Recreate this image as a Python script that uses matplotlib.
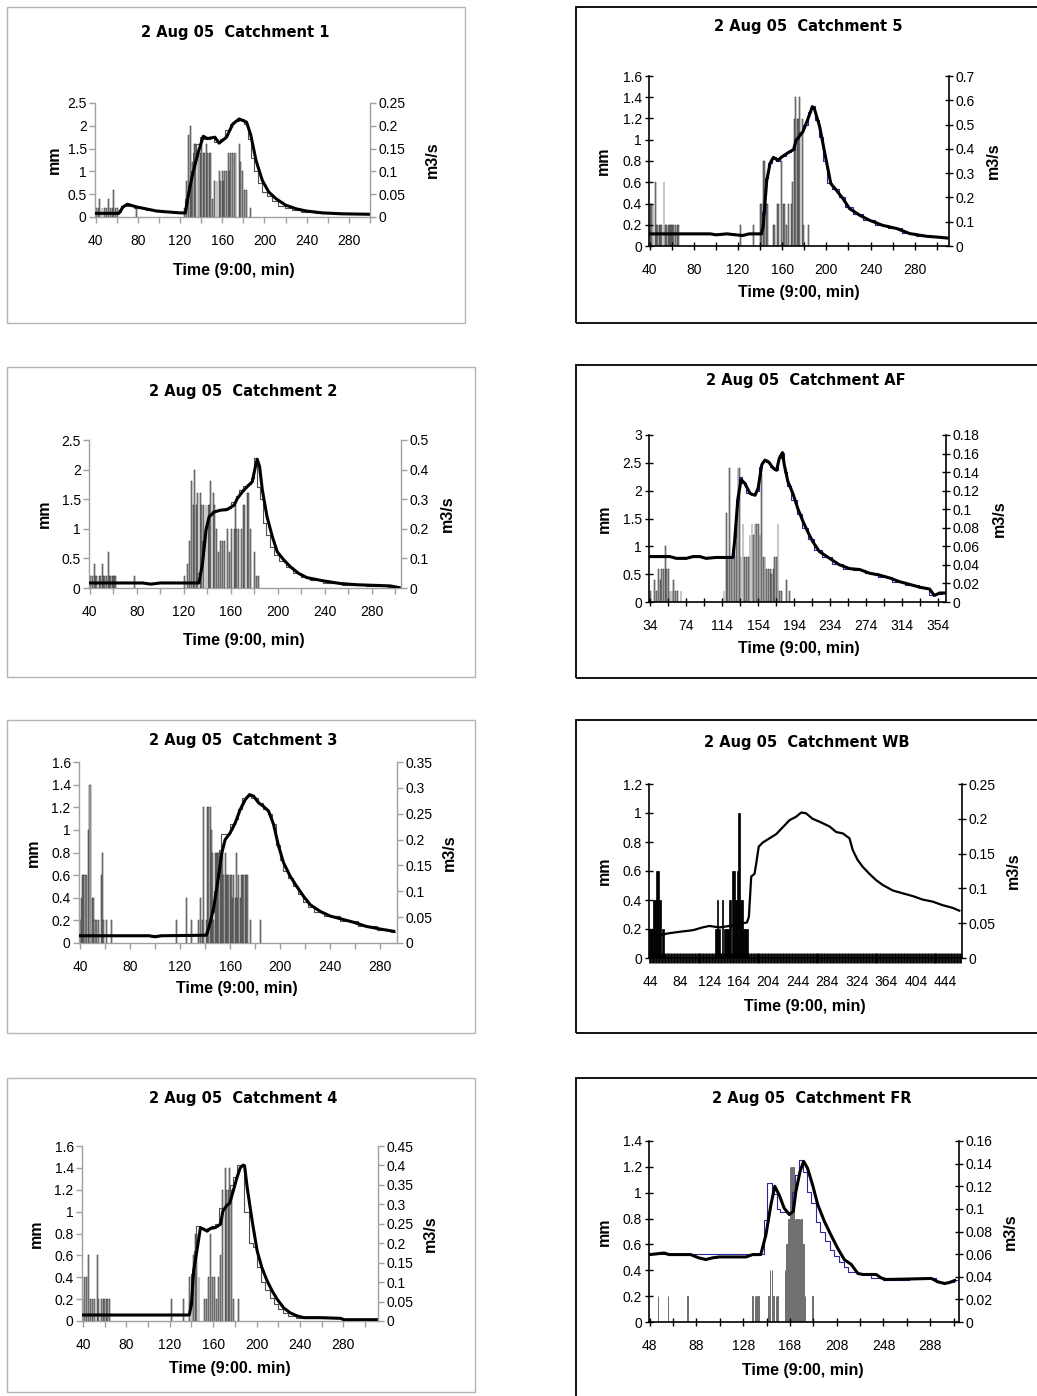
import matplotlib
matplotlib.use('Agg')
import matplotlib.pyplot as plt
from matplotlib.patches import Rectangle
import numpy as np

W, H = 1037, 1396

#####################
# Data: rainfall (t min, mm), simulated and observed flow (t min, m3/s)
#####################

rain_c1 = [(40, 0.2), (41, 0.2), (43, 0.2), (44, 0.4), (46, 0.2), (48, 0.2), (50, 0.2), (52, 0.4), (54, 0.2),
           (56, 0.2), (57, 0.6), (59, 0.2), (61, 0.2), (79, 0.2),
           (124, 0.2), (126, 0.8), (128, 1.8), (130, 2.0), (131, 0.8), (132, 1.2), (134, 1.6), (135, 1.6),
           (137, 1.4), (138, 1.4), (139, 1.4), (140, 1.6), (142, 1.4), (143, 1.4), (145, 1.6), (146, 1.4),
           (148, 1.4), (149, 1.4), (151, 0.4), (153, 0.8), (155, 0.8), (157, 1.0), (158, 0.8), (160, 1.0),
           (161, 0.8), (162, 1.0), (164, 1.0), (166, 1.4), (167, 1.0), (168, 1.4), (170, 1.4), (172, 1.4),
           (173, 1.4), (176, 1.6), (177, 1.2), (179, 1.0), (181, 0.6), (183, 0.6), (187, 0.2)]
sim_c1 = [(40, 0.008), (62, 0.008), (66, 0.022), (70, 0.028), (79, 0.022), (98, 0.013), (120, 0.009),
          (125, 0.009), (128, 0.05), (132, 0.095), (137, 0.14), (142, 0.177), (146, 0.172), (153, 0.175),
          (157, 0.162), (164, 0.175), (170, 0.204), (176, 0.215), (183, 0.208), (187, 0.18), (192, 0.124),
          (198, 0.08), (204, 0.055), (211, 0.04), (220, 0.026), (230, 0.018), (240, 0.013), (255, 0.009),
          (274, 0.007), (299, 0.006)]
obs_c1 = [(40, 0.01), (62, 0.01), (66, 0.025), (72, 0.025), (80, 0.02), (95, 0.015), (110, 0.01),
          (124, 0.01), (126, 0.04), (129, 0.07), (131, 0.1), (134, 0.14), (137, 0.16), (140, 0.175),
          (146, 0.17), (150, 0.175), (155, 0.165), (160, 0.17), (165, 0.19), (169, 0.205), (173, 0.21),
          (178, 0.215), (183, 0.205), (186, 0.17), (189, 0.13), (192, 0.1), (196, 0.075), (200, 0.055),
          (205, 0.045), (210, 0.035), (216, 0.025), (222, 0.02), (230, 0.015), (240, 0.012), (255, 0.009),
          (275, 0.007), (299, 0.006)]

rain_c2 = [(40, 0.2), (41, 0.2), (42, 0.2), (44, 0.4), (45, 0.2), (46, 0.2), (48, 0.2), (49, 0.2), (51, 0.4),
           (52, 0.2), (53, 0.2), (54, 0.2), (56, 0.6), (57, 0.2), (58, 0.2), (59, 0.2), (60, 0.2), (61, 0.2),
           (62, 0.2), (78, 0.2),
           (121, 0.2), (123, 0.4), (125, 0.8), (127, 1.8), (128, 1.4), (129, 2.0), (131, 1.4), (132, 1.6),
           (134, 1.6), (135, 1.4), (137, 1.4), (139, 1.4), (141, 1.4), (142, 1.4), (143, 1.8), (145, 1.6),
           (146, 1.4), (148, 1.0), (150, 0.6), (151, 0.8), (153, 0.8), (155, 0.8), (157, 1.0), (159, 0.6),
           (161, 1.0), (163, 1.0), (164, 1.4), (165, 1.0), (167, 1.0), (169, 1.0), (171, 1.4), (172, 1.4),
           (174, 1.6), (175, 1.6), (177, 1.0), (180, 0.6), (182, 0.2), (184, 0.2)]
sim_c2 = [(40, 0.017), (85, 0.017), (92, 0.013), (100, 0.017), (125, 0.017), (133, 0.017), (136, 0.082),
          (139, 0.195), (141.6, 0.24), (146, 0.257), (151.5, 0.263), (157, 0.265), (163, 0.28), (165.6, 0.302),
          (170, 0.325), (174, 0.342), (178.4, 0.359), (180.4, 0.398), (182.6, 0.435), (184.6, 0.41),
          (187, 0.33), (191, 0.24), (195.5, 0.173), (199.7, 0.122), (205.4, 0.094), (211, 0.071),
          (218, 0.049), (225, 0.035), (239, 0.024), (253.6, 0.015), (267.8, 0.011), (282, 0.009),
          (296, 0.007), (303.5, 0.001)]
obs_c2 = [(40, 0.017), (130, 0.017), (133, 0.05), (135, 0.1), (137, 0.16), (139, 0.21), (142, 0.25),
          (146, 0.26), (152, 0.265), (158, 0.27), (163, 0.29), (166, 0.31), (169, 0.33), (172, 0.345),
          (176, 0.35), (179, 0.37), (181.5, 0.44), (184, 0.34), (186, 0.3), (189, 0.22), (192, 0.18),
          (195, 0.14), (199, 0.11), (204, 0.09), (210, 0.07), (216, 0.05), (223, 0.037), (232, 0.027),
          (245, 0.018), (265, 0.011), (285, 0.008), (303, 0.002)]

rain_c3 = [(40, 0.2), (41, 0.4), (42, 0.6), (43, 0.6), (44, 0.6), (45, 0.6), (47, 1.0), (48, 1.4), (50, 0.4),
           (51, 0.4), (52, 0.2), (53, 0.2), (55, 0.2), (57, 0.6), (58, 0.8), (59, 0.2), (61, 0.2), (65, 0.2),
           (117, 0.2), (125, 0.4), (129, 0.2), (135, 0.2), (136, 0.4), (138, 0.2), (139, 1.2), (141, 0.2),
           (142, 1.2), (143, 1.2), (144, 1.2), (145, 1.0), (146, 0.8), (147, 0.2), (148, 0.8), (149, 0.8),
           (150, 0.8), (151, 0.8), (152, 0.8), (153, 0.8), (154, 0.8), (155, 0.6), (156, 0.8), (157, 0.6),
           (158, 0.6), (159, 0.6), (160, 0.6), (161, 0.6), (162, 0.4), (163, 0.6), (164, 0.4), (165, 0.8),
           (166, 0.4), (167, 0.6), (168, 0.4), (169, 0.6), (170, 0.6), (171, 0.6), (172, 0.6), (173, 0.6),
           (174, 0.6), (176, 0.2), (184, 0.2)]
sim_c3 = [(40, 0.014), (95, 0.014), (100, 0.012), (105, 0.014), (141, 0.015), (144, 0.039), (147, 0.071),
          (150.7, 0.129), (153.3, 0.174), (156, 0.2), (160, 0.213), (164, 0.232), (168, 0.258), (172, 0.277),
          (175.5, 0.287), (178.7, 0.284), (182.7, 0.271), (186.7, 0.264), (190.7, 0.255), (194.7, 0.229),
          (198.7, 0.187), (202.7, 0.155), (208, 0.129), (213, 0.11), (218.7, 0.09), (224, 0.074),
          (232, 0.061), (240, 0.052), (248, 0.047), (258.7, 0.04), (269, 0.032), (280, 0.027),
          (290.7, 0.0226)]
obs_c3 = [(40, 0.015), (139, 0.015), (141, 0.02), (144, 0.04), (146, 0.06), (148, 0.1), (150, 0.14),
          (152, 0.18), (154, 0.21), (158, 0.21), (162, 0.23), (165, 0.24), (168, 0.26), (171, 0.28),
          (174, 0.285), (180, 0.28), (184, 0.27), (188, 0.26), (192, 0.25), (195, 0.23), (198, 0.19),
          (201, 0.16), (204, 0.14), (208, 0.125), (212, 0.11), (216, 0.095), (220, 0.08), (224, 0.07),
          (230, 0.06), (240, 0.052), (255, 0.042), (270, 0.032), (285, 0.025), (292, 0.022)]

rain_c4 = [(40, 0.2), (41.5, 0.4), (43, 0.4), (45, 0.6), (47, 0.2), (49, 0.2), (50.5, 0.2), (53, 0.6),
           (54.5, 0.2), (57, 0.2), (58.5, 0.2), (60, 0.2), (61.5, 0.2), (63, 0.2), (64.5, 0.2),
           (121.5, 0.2), (133, 0.2), (138.5, 0.4), (140.5, 0.2), (142, 0.6), (143.5, 0.8), (145, 0.8),
           (147, 0.4), (152, 0.2), (153.5, 0.2), (155.5, 0.4), (157.5, 0.8), (159.5, 0.4), (161, 0.4),
           (163, 0.2), (165, 0.4), (167, 0.6), (169, 1.2), (171, 1.4), (172.5, 1.2), (174, 1.2),
           (175.5, 1.4), (177, 1.2), (179, 0.2), (183, 0.2)]
sim_c4 = [(40, 0.0154), (138, 0.0154), (140, 0.043), (142, 0.129), (145, 0.18), (148.3, 0.24),
          (151.4, 0.236), (154.5, 0.231), (157.5, 0.238), (162, 0.24), (166.8, 0.249), (169, 0.283),
          (172.3, 0.296), (175.4, 0.304), (178.5, 0.334), (182, 0.369), (185, 0.394), (187.7, 0.401),
          (189, 0.399), (191.4, 0.343), (196, 0.257), (200.6, 0.18), (205, 0.137), (209.8, 0.103),
          (214.5, 0.077), (219, 0.056), (225, 0.034), (231, 0.021), (237.5, 0.013), (243.7, 0.0086),
          (259, 0.0086), (277.5, 0.0069), (280.6, 0.0034), (311.4, 0.0034)]
obs_c4 = [(40, 0.015), (137, 0.015), (139, 0.05), (141, 0.12), (143, 0.18), (146, 0.245), (149, 0.24),
          (152, 0.235), (156, 0.24), (160, 0.245), (164, 0.25), (167, 0.29), (170, 0.29), (174, 0.3),
          (177, 0.35), (180, 0.37), (184, 0.4), (187, 0.4), (190, 0.28), (192, 0.28), (195, 0.2),
          (198, 0.19), (202, 0.14), (206, 0.1), (210, 0.08), (214, 0.06), (218, 0.045), (222, 0.03),
          (226, 0.02), (232, 0.012), (240, 0.009), (278, 0.007), (281, 0.004), (311, 0.004)]

rain_c5 = [(41, 0.4), (42, 0.4), (43, 0.4), (45, 0.6), (46, 0.2), (47, 0.2), (49, 0.2), (50, 0.2), (51, 0.2),
           (53, 0.6), (54, 0.2), (55, 0.2), (57, 0.2), (58, 0.2), (59, 0.2), (60, 0.2), (61, 0.2), (62, 0.2),
           (63, 0.2), (65, 0.2), (66, 0.2), (122, 0.2), (134, 0.2), (140, 0.4), (141, 0.4), (143, 0.8),
           (144, 0.8), (146, 0.4), (147, 0.4), (152, 0.2), (153, 0.2), (156, 0.4), (157, 0.4), (159, 0.8),
           (161, 0.4), (162, 0.4), (164, 0.2), (166, 0.4), (168, 0.4), (169, 0.6), (171, 1.2), (172, 1.4),
           (174, 1.2), (175, 1.2), (176, 1.4), (178, 1.2), (179, 0.2), (184, 0.2)]
sim_c5 = [(40, 0.05), (95, 0.05), (100, 0.046), (110, 0.05), (120, 0.045), (124, 0.043), (130, 0.05),
          (141, 0.05), (142.7, 0.078), (146, 0.27), (149, 0.34), (152, 0.365), (156, 0.353), (160.6, 0.37),
          (166.7, 0.388), (170.3, 0.397), (172.6, 0.436), (178.7, 0.47), (183, 0.52), (187.3, 0.574),
          (189, 0.567), (194, 0.49), (198, 0.395), (204, 0.257), (209, 0.23), (215, 0.195), (221, 0.154),
          (230, 0.127), (239, 0.106), (251, 0.085), (263.6, 0.072), (275.6, 0.051), (290.8, 0.04),
          (299.8, 0.037), (309, 0.033)]
obs_c5 = [(40, 0.05), (141, 0.05), (143, 0.14), (146, 0.28), (149, 0.34), (152, 0.365), (156, 0.35),
          (160, 0.37), (166, 0.388), (170, 0.397), (173, 0.44), (177, 0.47), (181, 0.5), (185, 0.55),
          (188, 0.575), (191, 0.52), (195, 0.45), (199, 0.35), (203, 0.26), (208, 0.235), (214, 0.2),
          (220, 0.16), (228, 0.13), (238, 0.108), (250, 0.087), (262, 0.073), (274, 0.053), (288, 0.041),
          (300, 0.037), (310, 0.033)]

rain_af = [(34, 0.2), (39, 0.4), (40.5, 0.2), (43, 0.6), (45, 0.4), (46.7, 0.6), (48.5, 0.6), (50.7, 1.0),
           (52, 0.6), (54, 0.6), (56, 0.2), (58, 0.2), (60, 0.4), (62, 0.2), (64, 0.2), (68, 0.2),
           (116, 0.2), (118.5, 1.6), (120, 0.8), (122, 2.4), (124, 0.8), (126, 0.8), (128, 0.8), (130, 1.4),
           (131.5, 2.4), (133, 2.4), (135, 0.8), (137, 1.4), (139, 0.8), (141, 0.8), (143, 0.8), (145, 1.2),
           (147, 1.4), (148.5, 1.2), (150.5, 1.4), (152, 1.4), (154, 1.4), (156, 1.2), (158, 2.3), (160, 0.8),
           (161.5, 0.8), (163.5, 0.6), (165.5, 0.6), (167.5, 0.6), (169, 0.5), (171, 0.6), (172.5, 0.8),
           (174.5, 0.8), (176, 1.4), (178, 0.2), (180, 0.2), (185.5, 0.4), (189, 0.2)]
sim_af = [(34, 0.049), (55.5, 0.049), (63, 0.047), (74, 0.047), (81.5, 0.049), (89, 0.049), (96, 0.047),
          (107, 0.048), (125.8, 0.048), (127.7, 0.065), (131.5, 0.112), (135, 0.132), (139, 0.128),
          (145, 0.117), (150.5, 0.115), (154, 0.123), (158, 0.148), (161.6, 0.153), (165.5, 0.151),
          (171, 0.144), (174.5, 0.142), (177.5, 0.155), (181, 0.161), (183, 0.148), (187, 0.13),
          (192.6, 0.117), (198, 0.101), (203.8, 0.087), (209, 0.076), (214.8, 0.065), (222, 0.0545),
          (233.5, 0.047), (244.6, 0.04), (255.7, 0.036), (267, 0.035), (278, 0.031), (289, 0.029),
          (300, 0.026), (311, 0.022), (322.5, 0.019), (333.6, 0.016), (344.7, 0.014), (350, 0.007),
          (355.8, 0.0097), (361.5, 0.0097)]
obs_af = [(34, 0.048), (126, 0.048), (128, 0.07), (131, 0.11), (134, 0.135), (138, 0.128), (143, 0.118),
          (149, 0.115), (153, 0.12), (157, 0.145), (160, 0.152), (165, 0.151), (170, 0.145), (174, 0.142),
          (177, 0.155), (181, 0.161), (184, 0.14), (188, 0.125), (194, 0.11), (200, 0.095), (206, 0.08),
          (212, 0.068), (220, 0.056), (230, 0.048), (242, 0.041), (254, 0.036), (266, 0.035), (280, 0.031),
          (295, 0.027), (310, 0.022), (325, 0.018), (340, 0.015), (349, 0.008), (354, 0.009), (362, 0.0095)]

rain_wb = [(43, 0.2), (45, 0.2), (47, 0.2), (49, 0.4), (51, 0.4), (53, 0.6), (55, 0.6), (57, 0.4), (61, 0.2),
           (133, 0.2), (135, 0.4), (137, 0.2), (142, 0.4), (145, 0.2), (147, 0.2), (149, 0.2), (151, 0.4),
           (153, 0.4), (156, 0.6), (158, 0.6), (160, 0.4), (162, 0.6), (164, 1.0), (166, 0.4), (168, 0.4),
           (170, 0.2), (172, 0.2), (174, 0.2), (176, 0.2)]
sim_wb = [(44, 0.034), (60, 0.033), (66, 0.035), (79, 0.037), (102, 0.04), (115, 0.044), (124, 0.046),
          (138, 0.044), (151.4, 0.046), (160.5, 0.048), (169.5, 0.05), (175, 0.051), (177.6, 0.059),
          (180.8, 0.117), (185.3, 0.121), (187.6, 0.136), (191, 0.16), (196.6, 0.166), (205.6, 0.172),
          (214.7, 0.178), (223.7, 0.188), (232.7, 0.198), (241.7, 0.203), (248.5, 0.209), (255, 0.208),
          (264, 0.2), (273, 0.196), (287, 0.189), (296, 0.181), (305, 0.179), (314, 0.172), (318.5, 0.155),
          (325, 0.141), (332, 0.131), (341, 0.121), (350, 0.112), (359, 0.105), (372.7, 0.097),
          (386, 0.093), (399.8, 0.089), (413, 0.084), (426.8, 0.081), (440, 0.076), (454, 0.072),
          (463, 0.068)]

rain_fr = [(55, 0.2), (63.7, 0.2), (80.3, 0.2), (136, 0.2), (138, 0.2), (139.4, 0.2), (141, 0.2),
           (149.7, 0.2), (151, 0.4), (152.6, 0.4), (154, 0.2), (156, 0.2), (157.4, 0.2), (163.7, 0.4),
           (165, 0.6), (166.6, 0.8), (168, 1.2), (169.4, 1.2), (170.9, 1.2), (172.3, 0.8), (173.7, 0.8),
           (175, 0.8), (176.6, 0.8), (178, 0.8), (179.4, 0.6), (180.9, 0.2), (187.4, 0.2)]
sim_fr = [(48, 0.0596), (60.3, 0.061), (64.6, 0.0596), (83, 0.0596), (90, 0.0567), (96, 0.0552),
          (101.7, 0.0567), (107.4, 0.0575), (130.3, 0.0575), (136, 0.0596), (143, 0.0596), (147.4, 0.077),
          (151.7, 0.1036), (155, 0.12), (158.9, 0.112), (163, 0.1007), (167.4, 0.095), (170.9, 0.098),
          (173, 0.115), (176.6, 0.133), (179.7, 0.142), (183, 0.136), (187.4, 0.121), (191.7, 0.104),
          (197.4, 0.089), (203, 0.077), (208.9, 0.065), (214.6, 0.055), (220.3, 0.051), (226, 0.043),
          (230.3, 0.042), (241.7, 0.042), (246, 0.039), (250, 0.0376), (270, 0.038), (288.9, 0.0385),
          (294.6, 0.0355), (300.3, 0.034), (304.6, 0.035), (308.9, 0.0367)]
obs_fr = [(48, 0.06), (145, 0.06), (147, 0.09), (150, 0.123), (155, 0.113), (158, 0.1), (161, 0.097),
          (164, 0.097), (168, 0.097), (171, 0.115), (174, 0.13), (177, 0.143), (181, 0.133), (184, 0.115),
          (188, 0.105), (192, 0.088), (196, 0.08), (200, 0.072), (204, 0.064), (208, 0.058), (212, 0.053),
          (216, 0.049), (220, 0.044), (230, 0.042), (245, 0.039), (250, 0.0375), (290, 0.0385),
          (295, 0.035), (305, 0.035), (312, 0.037)]

titles = ['2 Aug 05  Catchment 1', '2 Aug 05  Catchment 2', '2 Aug 05  Catchment 3', '2 Aug 05  Catchment 4',
          '2 Aug 05  Catchment 5', '2 Aug 05  Catchment AF', '2 Aug 05  Catchment WB', '2 Aug 05  Catchment FR']

#####################
# Layout (pixels) and styling per panel
#####################
panels = [
    dict(title=titles[0], rain=rain_c1, sim=sim_c1, obs=obs_c1, side='L',
         frame=(7, 7, 465, 323), axes=(95, 103, 370, 217), tpos=(235, 32), mmx=54, qx=432, xl=(234, 270),
         xlim=(39.4, 299.5), xt=(40, 300, 20, 40), ymax=2.5, ystep=0.5, qmax=0.25, qstep=0.05,
         xlabel='Time (9:00, min)'),
    dict(title=titles[1], rain=rain_c2, sim=sim_c2, obs=obs_c2, side='L',
         frame=(7, 367, 475, 677), axes=(89, 440, 401, 588), tpos=(243, 391), mmx=44, qx=447, xl=(244, 641),
         xlim=(39.4, 305), xt=(40, 300, 20, 40), ymax=2.5, ystep=0.5, qmax=0.5, qstep=0.1,
         xlabel='Time (9:00, min)'),
    dict(title=titles[2], rain=rain_c3, sim=sim_c3, obs=obs_c3, side='L',
         frame=(7, 720, 475, 1033), axes=(79, 762, 397, 943), tpos=(243, 740), mmx=33, qx=449, xl=(237, 989),
         xlim=(39.2, 293.3), xt=(40, 280, 20, 40), ymax=1.6, ystep=0.2, qmax=0.35, qstep=0.05,
         xlabel='Time (9:00, min)'),
    dict(title=titles[3], rain=rain_c4, sim=sim_c4, obs=obs_c4, side='L',
         frame=(7, 1078, 475, 1392), axes=(82, 1146, 378, 1321), tpos=(243, 1098), mmx=36, qx=430, xl=(230, 1368),
         xlim=(39.1, 312), xt=(40, 300, 20, 40), ymax=1.6, ystep=0.2, qmax=0.45, qstep=0.05,
         xlabel='Time (9:00. min)'),
    dict(title=titles[4], rain=rain_c5, sim=sim_c5, obs=obs_c5, side='R',
         frame=(576, 7, 1045, 323), axes=(649, 76, 949, 246), tpos=(808, 27), mmx=603, qx=993, xl=(799, 293),
         xlim=(39.4, 311), xt=(40, 300, 20, 40), ymax=1.6, ystep=0.2, qmax=0.7, qstep=0.1,
         xlabel='Time (9:00, min)'),
    dict(title=titles[5], rain=rain_af, sim=sim_af, obs=obs_af, side='R',
         frame=(576, 365, 1045, 678), axes=(649, 435, 946, 602), tpos=(806, 381), mmx=604, qx=999, xl=(799, 648),
         xlim=(32.5, 363), xt=(34, 354, 20, 40), ymax=3, ystep=0.5, qmax=0.18, qstep=0.02,
         xlabel='Time (9:00, min)'),
    dict(title=titles[6], rain=rain_wb, sim=sim_wb, obs=None, side='W',
         frame=(576, 720, 1045, 1033), axes=(649, 784, 962, 958), tpos=(807, 742), mmx=604, qx=1013, xl=(805, 1007),
         xlim=(42.2, 466.6), xt=(44, 464, 4, 40), ymax=1.2, ystep=0.2, qmax=0.25, qstep=0.05,
         xlabel='Time (9:00, min)'),
    dict(title=titles[7], rain=rain_fr, sim=sim_fr, obs=obs_fr, side='F',
         frame=(576, 1078, 1045, 1410), axes=(649, 1141, 959, 1322), tpos=(812, 1099), mmx=604, qx=1010,
         xl=(803, 1371), xlim=(47.4, 312.6), xt=(48, 308, 20, 40), ymax=1.4, ystep=0.2, qmax=0.16, qstep=0.02,
         xlabel='Time (9:00, min)'),
]


def fx(x):
    return x / W


def fy(y):
    return 1 - y / H


def fmt(v):
    return '%g' % round(v, 4)


plt.rcParams['font.family'] = ['Liberation Sans', 'DejaVu Sans']
fig = plt.figure(figsize=(W / 100, H / 100), dpi=100)

for p in panels:
    left_style = p['side'] == 'L'
    axis_col = '#a0a0a0' if left_style else 'black'

    x0, y0, x1, y1 = p['frame']
    fig.patches.append(Rectangle((fx(x0), fy(y1)), fx(x1 - x0), (y1 - y0) / H, transform=fig.transFigure,
                                 fill=False, edgecolor='#b4b4b4' if left_style else 'black',
                                 linewidth=1.0 if left_style else 1.3))

    a0, b0, a1, b1 = p['axes']
    ax = fig.add_axes([fx(a0), fy(b1), fx(a1 - a0), (b1 - b0) / H])
    ax2 = ax.twinx()

    rt, rv = np.array(p['rain']).T
    if p['side'] == 'W':
        ax.bar(rt, rv, width=2.0, color='black', edgecolor='black', linewidth=0.5)
    elif p['side'] == 'F':
        ax.bar(rt, rv, width=0.6, color='white', edgecolor='black', linewidth=0.4)
    else:
        ax.bar(rt, rv, width=0.85, color='#b4b4b4', edgecolor='#202020', linewidth=0.35)

    if p['obs'] is not None:
        ot, ov = np.array(p['obs']).T
        ax2.plot(ot, ov, drawstyle='steps-mid', color='#505050' if left_style else '#2a2aa0', lw=0.8)
    st, sv = np.array(p['sim']).T
    ax2.plot(st, sv, color='black', lw=1.6 if p['side'] == 'W' else 2.2, solid_joinstyle='round')

    ax.set_xlim(*p['xlim'])
    ax.set_ylim(0, p['ymax'])
    ax2.set_ylim(0, p['qmax'])

    t0, t1, tstep, lstep = p['xt']
    xt = np.arange(t0, t1 + 0.1, tstep)
    ax.set_xticks(xt)
    ax.set_xticklabels([str(int(t)) if (t - t0) % lstep == 0 else '' for t in xt])
    yt = np.arange(0, p['ymax'] + 1e-6, p['ystep'])
    ax.set_yticks(yt)
    ax.set_yticklabels([fmt(v) for v in yt])
    qt = np.arange(0, p['qmax'] + 1e-6, p['qstep'])
    ax2.set_yticks(qt)
    ax2.set_yticklabels([fmt(v) for v in qt])

    for a in (ax, ax2):
        a.spines['top'].set_visible(False)
        for s in ('left', 'right', 'bottom'):
            a.spines[s].set_color(axis_col)
            a.spines[s].set_linewidth(1.0 if left_style else 1.2)
        a.set_facecolor('none')
        a.tick_params(labelsize=10, colors=axis_col, labelcolor='black', pad=2,
                      direction='out' if left_style else 'inout',
                      length=4 if left_style else 6, width=1.0)
    ax.tick_params(axis='x', pad=8 if left_style else 9)
    ax2.spines['left'].set_visible(False)
    ax2.spines['bottom'].set_visible(False)
    ax.spines['right'].set_visible(False)
    if p['side'] == 'W':
        ax.tick_params(axis='x', width=2.0, length=7)

    fig.text(fx(p['tpos'][0]), fy(p['tpos'][1]), p['title'], ha='center', va='center',
             fontsize=10.5, fontweight='bold', family='DejaVu Sans')
    yc = fy((b0 + b1) / 2)
    fig.text(fx(p['mmx']), yc, 'mm', rotation=90, ha='center', va='center', fontsize=11.5, fontweight='bold')
    fig.text(fx(p['qx']), yc, 'm3/s', rotation=90, ha='center', va='center', fontsize=11.5, fontweight='bold')
    fig.text(fx(p['xl'][0]), fy(p['xl'][1]), p['xlabel'], ha='center', va='center',
             fontsize=11.5, fontweight='bold')

fig.savefig('out.png', dpi=100)
